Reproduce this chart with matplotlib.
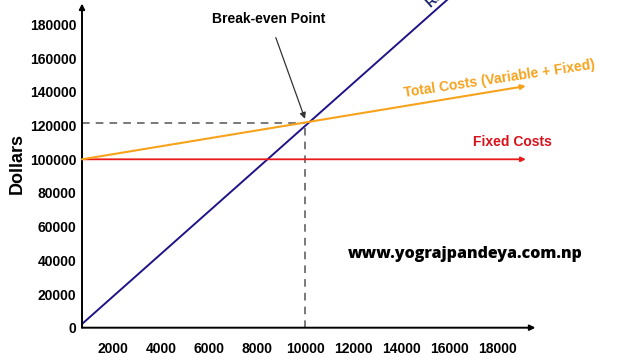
import matplotlib
matplotlib.use("Agg")
import matplotlib.pyplot as plt

plt.rcParams['font.family'] = ['Liberation Sans', 'DejaVu Sans']

# data
units = [708, 19200]
fixed_costs = [100000, 100000]
total_costs = [100000, 143500]
rev_units = [708, 16500]
revenue = [2200, 202000]
break_even_x = 10000
break_even_y = 121500
x_ticks = [2000, 4000, 6000, 8000, 10000, 12000, 14000, 16000, 18000]
y_ticks = [0, 20000, 40000, 60000, 80000, 100000, 120000, 140000, 160000, 180000]

navy = '#1e1488'
orange = '#f7a21b'
red = '#ea1a1a'

fig = plt.figure(figsize=(6.4, 3.6), dpi=100)
ax = fig.add_axes([82 / 640, 32.3 / 360, (620 - 82) / 640, 1 - 32.3 / 360])
ax.set_xlim(708, 23125)
ax.set_ylim(0, 194600)
for s in ax.spines.values():
    s.set_visible(False)

# axes with arrows
ax.annotate('', xy=(708, 192500), xytext=(708, 0),
            arrowprops=dict(arrowstyle='-|>', color='black', lw=1.4,
                            mutation_scale=8, shrinkA=0, shrinkB=0),
            annotation_clip=False)
ax.annotate('', xy=(19600, 0), xytext=(708, 0),
            arrowprops=dict(arrowstyle='-|>', color='black', lw=1.4,
                            mutation_scale=8, shrinkA=0, shrinkB=0),
            annotation_clip=False)

# lines
ax.plot(rev_units, revenue, color=navy, lw=1.4, clip_on=True)
ax.annotate('', xy=(units[1], fixed_costs[1]), xytext=(units[0], fixed_costs[0]),
            arrowprops=dict(arrowstyle='-|>', color=red, lw=1.3,
                            mutation_scale=7, shrinkA=0, shrinkB=0))
ax.annotate('', xy=(units[1], total_costs[1]), xytext=(units[0], total_costs[0]),
            arrowprops=dict(arrowstyle='-|>', color=orange, lw=1.5,
                            mutation_scale=7, shrinkA=0, shrinkB=0))

# break-even guides
ax.plot([708, break_even_x], [break_even_y, break_even_y], color='#555555',
        lw=1.1, ls=(0, (5, 4)))
ax.plot([break_even_x, break_even_x], [0, break_even_y], color='#555555',
        lw=1.1, ls=(0, (5, 4)))

ax.set_xticks(x_ticks)
ax.set_yticks(y_ticks)
ax.set_xticklabels([str(v) for v in x_ticks], fontsize=10, fontweight='bold')
ax.set_yticklabels([str(v) for v in y_ticks], fontsize=10, fontweight='bold')
ax.tick_params(axis='both', length=0)
ax.tick_params(axis='x', pad=10)
ax.tick_params(axis='y', pad=4)
ax.set_ylabel('Dollars', fontsize=13, fontweight='bold', labelpad=3)

# annotations
ax.annotate('Break-even Point', xy=(break_even_x, 124000), xytext=(8500, 183500),
            ha='center', va='center', fontsize=10, fontweight='bold',
            arrowprops=dict(arrowstyle='-|>', color='#333333', lw=0.9,
                            mutation_scale=9, shrinkA=7, shrinkB=0))
ax.text(18100, 148000, 'Total Costs (Variable + Fixed)', color=orange,
        fontsize=10, fontweight='bold', ha='center', va='center', rotation=8.5)
ax.text(18625, 110500, 'Fixed Costs', color='#d8121c', fontsize=10,
        fontweight='bold', ha='center', va='center')
ax.text(15300, 188500, 'Revenue', color='#1f2a6b', fontsize=10,
        fontweight='bold', ha='left', va='bottom', rotation=42,
        rotation_mode='anchor', clip_on=False)
ax.text(16670, 43500, 'www.yograjpandeya.com.np', fontsize=11.5,
        family='Open Sans', fontweight='heavy', ha='center', va='center')

fig.savefig('out.png', dpi=100)
